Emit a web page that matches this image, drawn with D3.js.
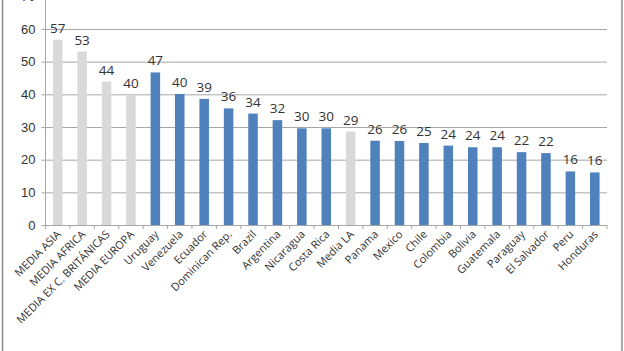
<!DOCTYPE html>
<html>
<head>
<meta charset="utf-8">
<script src="https://cdn.jsdelivr.net/npm/d3@7"></script>
<style>
  body { margin: 0; background: #fff; }
  svg { display: block; font-family: "Open Sans", "Noto Sans", sans-serif; }
</style>
</head>
<body>
<div id="chart"></div>
<script>
// categories and values
const categories = ["MEDIA ASIA", "MEDIA AFRICA", "MEDIA EX C. BRITÁNICAS", "MEDIA EUROPA",
    "Uruguay", "Venezuela", "Ecuador", "Dominican Rep.", "Brazil", "Argentina", "Nicaragua",
    "Costa Rica", "Media LA", "Panama", "Mexico", "Chile", "Colombia", "Bolivia", "Guatemala",
    "Paraguay", "El Salvador", "Peru", "Honduras"];
const values = [56.7, 53.1, 43.9, 39.9, 46.7, 40.1, 38.6, 35.7, 34.1, 32.1, 29.6,
    29.6, 28.6, 25.8, 25.7, 25.1, 24.3, 23.8, 23.8, 22.3, 22.0, 16.4, 16.1];
const averages = ["MEDIA ASIA", "MEDIA AFRICA", "MEDIA EX C. BRITÁNICAS", "MEDIA EUROPA", "Media LA"];
const yTicks = [0, 10, 20, 30, 40, 50, 60, 70];

const colors = { grey: "#d9d9d9", blue: "#4f81bd", line: "#a6a6a6", text: "#333" };

const chart = { width: 624, height: 351, left: 45.5, right: 607, bottom: 225 };
const data = categories.map((c, i) => ({ name: c, value: values[i] }));

const svg = d3.select("#chart").append("svg")
    .attr("width", chart.width)
    .attr("height", chart.height);

// outer frame of the chart area
svg.append("rect")
    .attr("x", 2.5).attr("y", -10)
    .attr("width", 619.5).attr("height", 380)
    .attr("fill", "none")
    .attr("stroke", "#8c8c8c")
    .attr("stroke-width", 1.5);

const x = d3.scaleBand()
    .domain(categories)
    .range([chart.left, chart.right])
    .paddingInner(0.61)
    .paddingOuter(0.305);

const y = d3.scaleLinear()
    .domain([0, 70])
    .range([chart.bottom, -3.7]);

// horizontal gridlines + y labels
const yAxis = svg.append("g")
    .attr("transform", `translate(${chart.left},0)`)
    .call(d3.axisLeft(y).tickValues(yTicks).tickSize(-(chart.right - chart.left)).tickPadding(10));
yAxis.select(".domain").remove();
yAxis.selectAll(".tick line").attr("stroke", colors.line);
yAxis.selectAll(".tick text").attr("font-size", 13).attr("fill", colors.text);
// short tick marks outside the axis
yAxis.selectAll(".tick").append("line")
    .attr("x1", -4).attr("x2", 0)
    .attr("stroke", colors.line);

// y axis line
svg.append("line")
    .attr("x1", chart.left).attr("x2", chart.left)
    .attr("y1", y(70)).attr("y2", y(0))
    .attr("stroke", colors.line);

// bars
svg.append("g").selectAll("rect")
    .data(data)
    .enter().append("rect")
    .attr("x", d => x(d.name))
    .attr("width", x.bandwidth())
    .attr("y", d => y(d.value))
    .attr("height", d => y(0) - y(d.value))
    .attr("fill", d => averages.includes(d.name) ? colors.grey : colors.blue);

// data labels
svg.append("g").selectAll("text")
    .data(data)
    .enter().append("text")
    .attr("x", d => x(d.name) + x.bandwidth() / 2)
    .attr("y", d => y(d.value) - 7)
    .attr("text-anchor", "middle")
    .attr("font-size", 13.5)
    .attr("fill", colors.text)
    .text(d => d3.format(".0f")(d.value));

// x axis with ticks on band edges
const edges = categories.map(c => x(c) - x.step() * x.paddingInner() / 2).concat([chart.right]);
svg.append("line")
    .attr("x1", chart.left).attr("x2", chart.right)
    .attr("y1", y(0) + 0.5).attr("y2", y(0) + 0.5)
    .attr("stroke", colors.line);
svg.append("g").selectAll("line")
    .data(edges)
    .enter().append("line")
    .attr("x1", d => d).attr("x2", d => d)
    .attr("y1", y(0)).attr("y2", y(0) + 4)
    .attr("stroke", colors.line);

// rotated category labels
svg.append("g").selectAll("text")
    .data(categories)
    .enter().append("text")
    .attr("transform", d => `translate(${x(d) + x.bandwidth() / 2 + 4}, ${y(0) + 10}) rotate(-45)`)
    .attr("text-anchor", "end")
    .attr("font-size", 11)
    .attr("fill", colors.text)
    .text(d => d);
</script>
</body>
</html>
